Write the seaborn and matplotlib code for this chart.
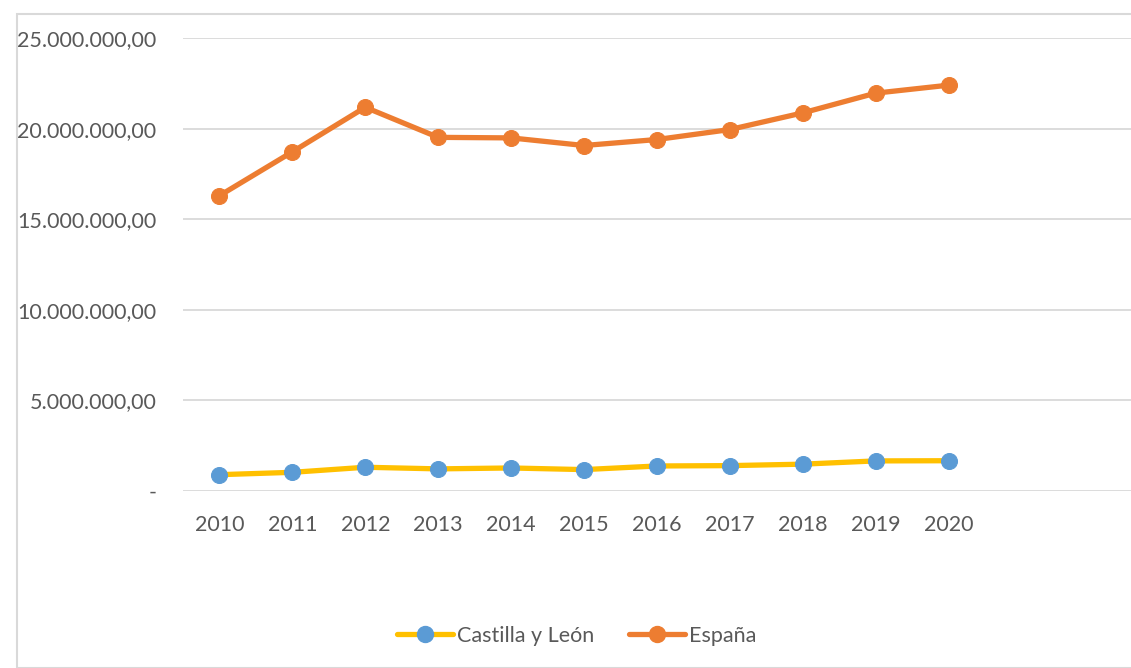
import pandas as pd
import seaborn as sns
import matplotlib.pyplot as plt
from matplotlib.lines import Line2D
from matplotlib.patches import Rectangle
import matplotlib.ticker as ticker

# values
years = [2010, 2011, 2012, 2013, 2014, 2015, 2016, 2017, 2018, 2019, 2020]
castilla = [0.90e6, 1.03e6, 1.31e6, 1.22e6, 1.27e6, 1.18e6, 1.38e6, 1.40e6, 1.48e6, 1.66e6, 1.67e6]
espana = [16.30e6, 18.72e6, 21.18e6, 19.52e6, 19.49e6, 19.07e6, 19.40e6, 19.95e6, 20.87e6, 21.96e6, 22.40e6]
series_names = ["Castilla y León", "España"]

df = pd.DataFrame({"year": years * 2,
                   "value": castilla + espana,
                   "serie": [series_names[0]] * len(years) + [series_names[1]] * len(years)})

sns.set_style("white")
plt.rcParams['font.family'] = ['Lato', 'DejaVu Sans']

text_col = "#595959"
line_cols = {"Castilla y León": "#FFC000", "España": "#ED7D31"}
mark_cols = {"Castilla y León": "#5B9BD5", "España": "#ED7D31"}
fs = 15.5

fig = plt.figure(figsize=(11.31, 6.68), dpi=100)
ax = fig.add_axes([0.1618, 0.265, 0.838, 0.678])

for name in series_names:
    sub = df[df["serie"] == name]
    sns.lineplot(data=sub, x="year", y="value", ax=ax, color=line_cols[name],
                 linewidth=3.8, marker="o", markersize=11.5,
                 markerfacecolor=mark_cols[name], markeredgecolor=mark_cols[name],
                 label=name, legend=False, zorder=3)

ax.set_xlim(2009.5, 2022.5)
ax.set_ylim(0, 25e6)
ax.set_xticks(years)
ax.set_xticklabels([str(y) for y in years])
ax.set_yticks([0, 5e6, 10e6, 15e6, 20e6, 25e6])

def es_fmt(v, pos):
    if v == 0:
        return "-"
    s = f"{v:,.2f}"
    return s.replace(",", "X").replace(".", ",").replace("X", ".")
ax.yaxis.set_major_formatter(ticker.FuncFormatter(es_fmt))

ax.grid(axis="y", color="#D9D9D9", linewidth=1.3)
for s in ax.spines.values():
    s.set_visible(False)
ax.tick_params(axis="both", length=0, labelsize=fs, labelcolor=text_col)
ax.tick_params(axis="y", pad=19)
ax.tick_params(axis="x", pad=17)
ax.set_xlabel("")
ax.set_ylabel("")

handles = []
for name in series_names:
    handles.append(Line2D([0], [0], color=line_cols[name], linewidth=3.8, marker="o",
                          markersize=11.5, markerfacecolor=mark_cols[name],
                          markeredgecolor=mark_cols[name]))
leg = fig.legend(handles, series_names, loc="center", bbox_to_anchor=(0.51, 1 - 636 / 668),
                 ncol=2, frameon=False, fontsize=fs, handlelength=2.6,
                 handletextpad=0.2, columnspacing=1.6)
for t in leg.get_texts():
    t.set_color(text_col)

# chart area border
fig.patches.append(Rectangle((17 / 1131, 0), 1.0, 1 - 14 / 668, transform=fig.transFigure,
                             fill=False, edgecolor="#D9D9D9", linewidth=1.5))

plt.savefig("out.png", dpi=100)
